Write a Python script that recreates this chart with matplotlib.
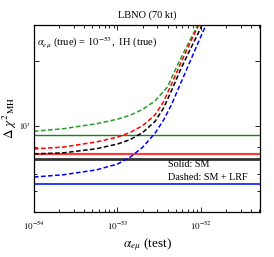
import matplotlib
matplotlib.use("Agg")
import matplotlib.pyplot as plt
from matplotlib.ticker import FixedLocator, NullFormatter, LogLocator

plt.rcParams['font.family'] = ['Liberation Serif', 'DejaVu Serif']
plt.rcParams['mathtext.fontset'] = 'stix'

# alpha_emu (test) values and Delta chi^2_MH
x_green = [1.0e-54, 2.24e-54, 5.62e-54, 1.0e-53, 1.41e-53, 2.0e-53, 2.82e-53, 3.98e-53, 5.01e-53, 6.31e-53, 7.94e-53, 1.0e-52]
y_green = [942, 968, 1021, 1072, 1117, 1189, 1303, 1514, 1841, 2213, 2630, 3126]

x_red = [1.0e-54, 2.24e-54, 5.62e-54, 1.0e-53, 1.41e-53, 2.0e-53, 2.82e-53, 3.55e-53, 4.47e-53, 5.62e-53, 7.08e-53, 8.91e-53, 1.12e-52]
y_red = [780, 796, 841, 885, 929, 1000, 1122, 1288, 1567, 1919, 2333, 2805, 3350]

x_black = [1.0e-54, 2.24e-54, 5.62e-54, 1.0e-53, 1.41e-53, 2.0e-53, 2.82e-53, 3.55e-53, 4.47e-53, 5.62e-53, 7.08e-53, 8.91e-53, 1.12e-52]
y_black = [740, 748, 782, 822, 861, 929, 1047, 1202, 1462, 1799, 2173, 2600, 3126]

x_blue = [1.0e-54, 2.24e-54, 5.62e-54, 1.0e-53, 1.41e-53, 2.0e-53, 2.82e-53, 3.55e-53, 4.47e-53, 5.62e-53, 7.08e-53, 8.91e-53, 1.12e-52, 1.41e-52]
y_blue = [578, 592, 624, 664, 713, 794, 923, 1059, 1259, 1549, 1905, 2344, 2871, 3508]

# SM (solid) levels
sm_levels = [906, 736, 698, 535]
sm_colors = ['#1f7f1f', '#ff3a3a', '#333333', '#2a3aff']
sm_widths = [1.0, 1.6, 2.0, 1.4]

dashed = [(x_green, y_green, '#2a9a2a'), (x_red, y_red, '#ff0000'),
          (x_black, y_black, '#000000'), (x_blue, y_blue, '#0000ff')]

fig = plt.figure(figsize=(2.74, 2.57), dpi=100)
ax = fig.add_axes([34/274, 1-211.5/257, 226/274, 186.5/257])

for lvl, c, w in zip(sm_levels, sm_colors, sm_widths):
    ax.axhline(lvl, color=c, lw=w)
for xs, ys, c in dashed:
    ax.plot(xs, ys, color=c, ls=(0, (3, 1.6)), lw=1.1)

ax.set_xscale('log')
ax.set_yscale('log')
ax.set_xlim(1e-54, 5.1e-52)
ax.set_ylim(400, 2930)

ax.xaxis.set_major_locator(FixedLocator([1e-54, 1e-53, 1e-52]))
ax.xaxis.set_minor_locator(LogLocator(base=10, subs=range(2, 10)))
ax.xaxis.set_minor_formatter(NullFormatter())
ax.set_xticklabels([r'$10^{-54}$', r'$10^{-53}$', r'$10^{-52}$'])

ax.yaxis.set_major_locator(FixedLocator([1000, 2000]))
ax.set_yticklabels([r'$10^{3}$', ''])
ax.yaxis.set_minor_locator(FixedLocator([500, 600, 800]))
ax.yaxis.set_minor_formatter(NullFormatter())

ax.tick_params(which='both', direction='in', top=True, right=True, labelsize=6.5, pad=6, width=0.6)
ax.tick_params(which='major', length=3.5)
ax.tick_params(which='minor', length=2)
ax.tick_params(axis='y', labelsize=5.5, pad=2)
for s in ax.spines.values():
    s.set_linewidth(0.9)

ax.set_title('LBNO (70 kt)', fontsize=7.5, pad=5)
ax.text(0.012, 0.95, r'$\alpha_{e\mu}$ (true) = $10^{-53}$,  IH (true)', transform=ax.transAxes,
        fontsize=7.6, va='top', ha='left')
ax.text(0.593, 0.25, 'Solid: SM', transform=ax.transAxes, fontsize=7.3, va='center', ha='left')
ax.text(0.593, 0.183, 'Dashed: SM + LRF', transform=ax.transAxes, fontsize=7.3, va='center', ha='left')

ax.set_xlabel(r'$\alpha_{e\mu}$ (test)', fontsize=9.5, labelpad=3)
ax.set_ylabel(r'$\Delta\ \chi^2{}_{\rm MH}$', fontsize=9.5, labelpad=0)

fig.savefig('out.png', dpi=100)
